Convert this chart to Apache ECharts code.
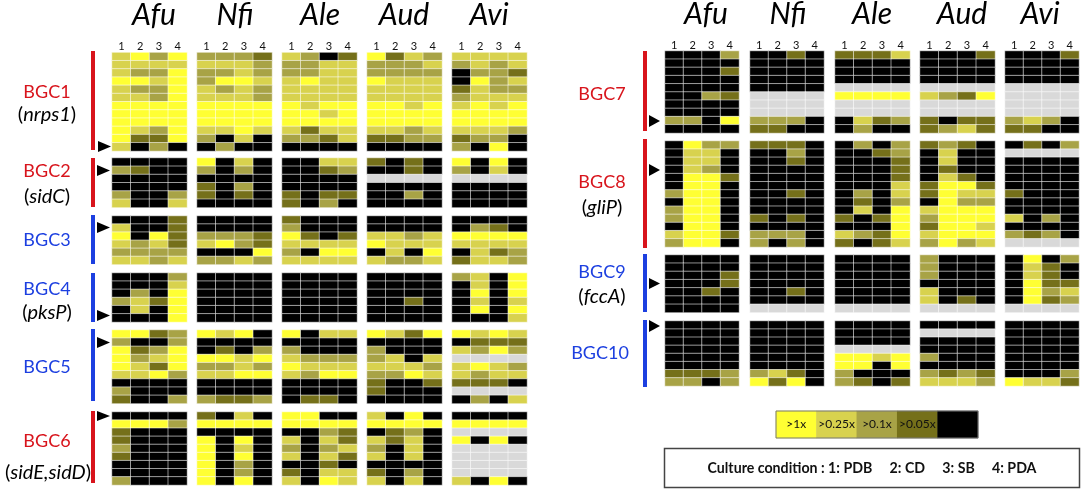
<!DOCTYPE html>
<html><head><meta charset="utf-8">
<style>html,body{margin:0;padding:0;background:#fff}#c{width:1084px;height:491px}</style>
<script src="https://cdn.jsdelivr.net/npm/echarts@6/dist/echarts.min.js"></script>
</head><body><div id="c"></div>
<script>
// Levels: 4 >1x, 3 >0.25x, 2 >0.1x, 1 >0.05x, 0 below, -1 no gene
const conditions = ['1','2','3','4'];
const species = ['Afu','Nfi','Ale','Aud','Avi'];
const legendLabels = ['>1x','>0.25x','>0.1x','>0.05x',''];
const legendLevels = [4,3,2,1,0];
const levelColors = ['#ffff33','#d8d24e','#a8a346','#75701a','#000000','#d9d9d9'];

const K=[0,0,0,0], G=[-1,-1,-1,-1], Y=[4,4,4,4];

const bgc1Afu=[[3,4,2,4],[3,3,3,3],[3,2,2,4],[4,4,3,4],[3,2,2,4],[3,3,2,4],Y,Y,Y,[4,3,2,4],[4,1,1,4],[3,0,2,0]];
const bgc1Nfi=[[2,2,2,1],[3,3,3,2],[2,2,3,2],[2,4,4,3],[3,2,3,2],[3,3,3,2],Y,Y,Y,[3,3,4,3],[2,0,3,0],[0,2,0,0]];
const bgc1Ale=[[3,2,0,1],[2,2,3,3],[2,2,3,3],[3,4,3,3],[3,3,3,3],[3,3,3,3],[4,3,4,4],[4,4,3,4],Y,[3,1,3,3],[2,2,1,3],K];
const bgc1Aud=[[4,1,3,2],[2,2,2,3],[2,2,2,2],[4,3,3,3],[3,3,3,3],[3,3,3,3],[4,4,3,4],Y,Y,[3,3,2,3],[1,1,2,2],K];
const bgc1Avi=[[3,3,3,3],[2,3,2,3],[0,2,2,1],[0,4,2,3],[1,3,2,2],[2,3,3,3],[3,4,3,4],Y,Y,[3,3,3,2],[1,2,2,0],[2,0,4,0]];

const bgc2Afu=[K,[2,1,0,0],K,K,[2,0,0,2],[3,0,0,3]];
const bgc2Nfi=[[4,0,3,0],[2,0,2,0],K,[1,0,2,0],[1,0,1,0],K];
const bgc2Ale=[[0,0,3,3],[0,0,1,2],K,K,[1,0,1,1],[1,0,2,0]];
const bgc2Aud=[[1,0,1,0],[0,0,1,0],G,K,[0,0,2,0],K];
const bgc2Avi=[[4,0,4,0],[2,0,3,0],G,K,K,K];

const bgc3Afu=[[0,0,0,1],[3,0,0,1],[4,0,4,1],[3,2,3,1],[2,2,2,2],[3,3,2,3]];
const bgc3Nfi=[K,K,[2,2,2,1],[3,4,2,1],[0,0,0,4],[2,2,3,2]];
const bgc3Ale=[[1,0,0,0],[2,0,0,0],[4,1,0,1],[3,3,3,3],[2,0,4,4],[3,3,3,3]];
const bgc3Aud=[K,K,[3,3,2,3],[4,3,3,3],[0,3,0,4],[3,2,2,3]];
const bgc3Avi=[K,[0,2,1,0],Y,[3,3,3,3],[0,3,1,2],[1,3,3,2]];

const bgc4Afu=[[0,0,0,2],[0,0,0,3],[0,2,0,4],[2,3,1,4],[0,3,0,4],[0,0,0,4]];
const bgc4Nfi=[K,K,K,K,K,K];
const bgc4Ale=[K,K,K,K,K,K];
const bgc4Aud=[K,K,K,[0,0,1,0],K,K];
const bgc4Avi=[[2,3,0,4],[0,3,0,4],[0,4,0,4],[0,3,0,3],[0,4,0,4],[0,0,0,3]];

const bgc5Afu=[[4,4,1,2],[2,0,0,2],[4,1,2,4],[4,2,3,4],[4,3,1,4],[3,3,4,2],K,[2,0,0,0],[1,0,0,2]];
const bgc5Nfi=[[4,3,4,0],K,[0,1,0,2],[4,4,3,4],[2,2,3,2],[3,3,4,4],K,K,[2,1,1,2]];
const bgc5Ale=[[4,0,3,3],K,[2,0,0,0],[3,2,2,2],[4,3,3,3],[3,2,4,4],K,K,[0,1,1,0]];
const bgc5Aud=[[4,3,1,4],K,[2,0,0,0],[2,3,0,3],[3,3,3,2],[2,2,4,3],[1,0,0,1],[1,0,0,0],K];
const bgc5Avi=[[4,3,4,3],[0,1,1,1],[3,2,4,2],G,[3,4,3,2],[3,2,3,3],[1,1,1,0],G,[0,2,0,3]];

const bgc6Afu=[K,[4,4,4,2],[1,0,0,0],[1,0,0,0],[2,0,0,0],[1,0,0,0],K,K,[2,0,0,0]];
const bgc6Nfi=[[1,0,3,0],Y,K,[4,0,4,0],[4,0,3,0],[4,0,4,0],[4,0,2,0],[4,0,2,0],[4,0,4,0]];
const bgc6Ale=[[4,4,0,0],Y,[0,0,2,1],[3,0,3,1],[2,0,2,3],[3,0,3,1],[0,0,1,0],[1,0,3,3],[3,0,4,3]];
const bgc6Aud=[[3,0,4,0],Y,[0,1,2,0],[3,1,3,0],[2,0,3,0],[3,0,3,0],K,[1,0,2,0],[3,0,3,0]];
const bgc6Avi=[K,Y,G,[4,0,4,0],G,G,G,G,[3,0,4,0]];

const bgc7Afu=[[0,0,0,2],K,[0,0,0,1],K,K,[0,0,2,1],K,K,[2,2,0,4],K];
const bgc7Nfi=[[0,0,1,0],K,K,K,K,G,G,G,[2,2,2,0],[1,1,0,0]];
const bgc7Ale=[[1,1,1,3],K,K,K,G,Y,G,G,[0,3,1,2],[0,2,0,0]];
const bgc7Aud=[[0,0,0,1],K,K,K,G,[3,2,1,4],G,G,[1,0,1,1],[1,2,3,1]];
const bgc7Avi=[[0,0,0,1],K,K,K,G,G,G,G,[2,3,2,0],[1,1,0,0]];

const bgc8Afu=[[0,4,2,2],[0,3,3,0],[0,3,3,0],[0,3,2,0],[0,4,4,1],[0,4,4,0],[2,4,4,0],[0,4,4,0],[2,4,4,0],[2,4,4,0],[0,4,4,0],[3,4,4,1],[2,4,4,0]];
const bgc8Nfi=[[1,1,1,0],[0,0,2,0],[0,0,1,0],K,K,K,[0,0,1,0],K,K,[1,0,1,0],K,[2,2,2,0],[2,0,2,0]];
const bgc8Ale=[[0,2,0,2],[0,0,1,2],[0,0,0,1],[0,0,0,1],[0,0,0,1],[0,0,0,3],[0,2,0,3],[0,1,0,2],[0,3,0,4],[1,0,1,4],[0,0,0,4],[3,2,1,4],[1,0,1,3]];
const bgc8Aud=[[1,2,1,0],[0,3,0,0],[0,3,0,0],[0,1,0,0],[0,3,1,0],[1,4,4,1],[1,4,3,3],[0,4,2,2],[3,4,4,4],[2,4,4,4],[1,4,4,3],[3,4,4,4],[2,4,2,3]];
const bgc8Avi=[[0,1,0,2],G,K,K,K,K,[1,0,0,0],K,K,[3,0,2,0],K,[2,1,2,0],G];

const bgc9Afu=[K,K,[0,0,0,1],[0,0,0,1],[0,0,1,0],K,K];
const bgc9Nfi=[K,K,K,K,[0,0,1,0],K,G];
const bgc9Ale=[K,K,K,K,K,K,G];
const bgc9Aud=[[2,0,0,0],[2,0,0,0],[2,0,0,0],K,[3,0,0,0],[3,0,1,0],G];
const bgc9Avi=[[0,4,0,2],[0,3,1,0],[0,3,1,0],[0,4,1,1],[0,4,2,3],[0,4,1,2],G];

const bgc10Afu=[K,K,K,K,K,K,[1,1,1,2],[2,2,0,2]];
const bgc10Nfi=[K,K,K,K,K,K,[2,3,1,0],[4,1,4,0]];
const bgc10Ale=[K,K,K,G,[4,4,3,4],[4,4,0,4],[2,0,0,0],[2,1,0,1]];
const bgc10Aud=[K,G,K,K,[2,0,0,0],K,[2,1,2,1],[3,3,3,2]];
const bgc10Avi=[K,K,K,K,K,K,[0,0,0,2],[4,3,3,1]];

const leftCols=[[112,187],[197,272],[282,357],[367,442],[452,527]];
const rightCols=[[665,739],[750,824],[835,910],[920,995],[1005,1079]];
const blocks=[
 {cols:leftCols,y:[52.5,151],p:[bgc1Afu,bgc1Nfi,bgc1Ale,bgc1Aud,bgc1Avi],top:1},
 {cols:leftCols,y:[158,207.5],p:[bgc2Afu,bgc2Nfi,bgc2Ale,bgc2Aud,bgc2Avi]},
 {cols:leftCols,y:[216,264.5],p:[bgc3Afu,bgc3Nfi,bgc3Ale,bgc3Aud,bgc3Avi]},
 {cols:leftCols,y:[273,322],p:[bgc4Afu,bgc4Nfi,bgc4Ale,bgc4Aud,bgc4Avi]},
 {cols:leftCols,y:[330,403.5],p:[bgc5Afu,bgc5Nfi,bgc5Ale,bgc5Aud,bgc5Avi]},
 {cols:leftCols,y:[412,485],p:[bgc6Afu,bgc6Nfi,bgc6Ale,bgc6Aud,bgc6Avi]},
 {cols:rightCols,y:[51,133],p:[bgc7Afu,bgc7Nfi,bgc7Ale,bgc7Aud,bgc7Avi],top:2},
 {cols:rightCols,y:[141,247],p:[bgc8Afu,bgc8Nfi,bgc8Ale,bgc8Aud,bgc8Avi]},
 {cols:rightCols,y:[255,312.5],p:[bgc9Afu,bgc9Nfi,bgc9Ale,bgc9Aud,bgc9Avi]},
 {cols:rightCols,y:[321,386],p:[bgc10Afu,bgc10Nfi,bgc10Ale,bgc10Aud,bgc10Avi]}
];

const W=1084,H=491;
const grid=[],xAxis=[],yAxis=[],series=[];
function panel(x0,x1,y0,y1,rows,top){
  const i=grid.length;
  grid.push({left:x0,width:x1-x0,top:y0,height:y1-y0,containLabel:false});
  xAxis.push({gridIndex:i,type:'category',position:'top',data:conditions,axisLine:{show:false},axisTick:{show:false},splitLine:{show:false},
    axisLabel:{show:!!top,margin:top===2?0:1,fontFamily:'Lato',fontSize:11,color:'#111',interval:0}});
  yAxis.push({gridIndex:i,type:'category',inverse:true,data:rows.map((r,k)=>String(k)),show:false});
  const d=[];rows.forEach((r,k)=>r.forEach((v,c)=>d.push([c,k,v])));
  series.push({type:'heatmap',xAxisIndex:i,yAxisIndex:i,data:d,progressive:0,animation:false,silent:true,
    itemStyle:{borderColor:'rgba(255,255,255,0.55)',borderWidth:1},emphasis:{disabled:true}});
}
blocks.forEach(b=>b.p.forEach((rows,s)=>panel(b.cols[s][0],b.cols[s][1],b.y[0],b.y[1],rows,b.top)));

// legend strip
const li=grid.length;
grid.push({left:776,width:202,top:411,height:27});
xAxis.push({gridIndex:li,type:'category',data:legendLabels.map((l,i)=>String(i)),show:false});
yAxis.push({gridIndex:li,type:'category',data:['0'],show:false});
series.push({type:'heatmap',xAxisIndex:li,yAxisIndex:li,silent:true,animation:false,
  data:legendLevels.map((v,i)=>[i,0,v]),
  label:{show:true,color:'#111',fontFamily:'Lato',fontSize:12,formatter:p=>legendLabels[p.data[0]]},
  itemStyle:{borderWidth:0},emphasis:{disabled:true}});

const RED='#d8141c',BLUE='#1c3fe0';
const g=[];
function bar(x0,y0,y1,c){g.push({type:'rect',shape:{x:x0,y:y0,width:4,height:y1-y0},style:{fill:c}});}
function arrow(x0,x1,y0,y1){g.push({type:'polygon',shape:{points:[[x0,y0],[x0,y1],[x1,(y0+y1)/2]]},style:{fill:'#000'}});}
function txt(text,x,y,font,fill,extra){g.push({type:'text',x:x,y:y,z:10,style:Object.assign({text,font,fill,textAlign:'center',textVerticalAlign:'middle'},extra||{})});}
const labelFont='18px Lato';
function gene(t,x,y){txt('{a|(}{b|'+t+'}{a|)}',x,y,labelFont,'#000',{rich:{a:{font:'20px Lato',fill:'#000'},b:{font:'italic 20px Lato',fill:'#000'}}});}

[[91,51,150,RED],[91,158,207,RED],[91,215,264,BLUE],[91,273,322,BLUE],[91,329,401,BLUE],[91,411,483,RED],
 [643,51,131,RED],[643,139,248,RED],[643,254,312,BLUE],[643,320,387,BLUE]].forEach(b=>bar(...b));
[[98,111,141,152],[97,110,165,176],[97,110,222,233],[97,110,310,321],[97,110,337,348],[97,110,411,421],
 [649,660,115,127],[649,660,164,176],[649,660,278,289],[649,660,320,332]].forEach(a=>arrow(...a));

[['BGC1',47,92,RED],['BGC2',47,171,RED],['BGC3',47,240,BLUE],['BGC4',47,289,BLUE],['BGC5',47,367,BLUE],['BGC6',47,441,RED],
 ['BGC7',602,94,RED],['BGC8',602,182,RED],['BGC9',602,272,BLUE],['BGC10',600,353,BLUE]].forEach(t=>txt(t[0],t[1],t[2],labelFont,t[3]));
[['nrps1',47,115],['sidC',47,197],['pksP',47,313],['sidE,sidD',48,473],['gliP',602,208],['fccA',602,297]].forEach(t=>gene(...t));

[154,235,320,404,489].forEach((x,i)=>txt(species[i],x,15,'italic 30px Lato','#000'));
[706,788,872,962,1040].forEach((x,i)=>txt(species[i],x,14,'italic 30px Lato','#000'));

g.push({type:'rect',z:11,shape:{x:776,y:411,width:202,height:27},style:{fill:'none',stroke:'#777',lineWidth:1}});
g.push({type:'rect',shape:{x:664.5,y:448.5,width:415,height:39},style:{fill:'#fff',stroke:'#444',lineWidth:1.5}});
txt('Culture condition : 1: PDB     2: CD     3: SB     4: PDA',872,468.5,'bold 14.2px Lato','#111');

const chart=echarts.init(document.getElementById('c'),null,{renderer:'canvas',width:W,height:H});
chart.setOption({
  animation:false,backgroundColor:'#fff',tooltip:{show:false},
  grid,xAxis,yAxis,series,
  visualMap:{show:false,type:'piecewise',dimension:2,seriesIndex:series.map((s,i)=>i),
    pieces:[{value:4,color:levelColors[0]},{value:3,color:levelColors[1]},{value:2,color:levelColors[2]},
            {value:1,color:levelColors[3]},{value:0,color:levelColors[4]},{value:-1,color:levelColors[5]}]},
  graphic:{elements:g}
});
</script></body></html>
